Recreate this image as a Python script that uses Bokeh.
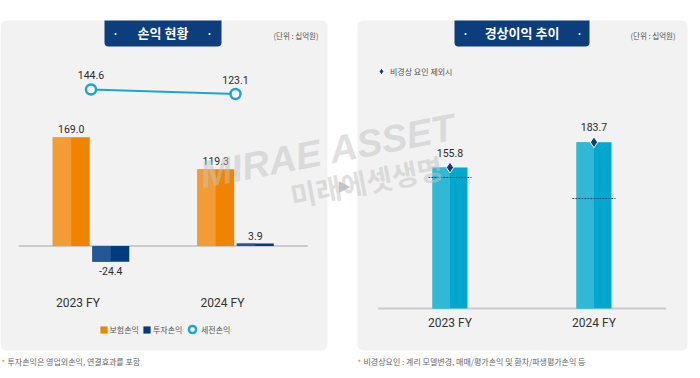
import numpy as np
from bokeh.plotting import figure
from bokeh.models import (ColumnDataSource, Range1d, Label, BoxAnnotation,
                          Legend, LegendItem)
from bokeh.core.properties import value, field
from bokeh.embed import file_html
from bokeh.resources import INLINE

# ---------------- data ----------------
years = ["2023 FY", "2024 FY"]
insurance_profit = [169.0, 119.3]     # 보험손익
investment_profit = [-24.4, 3.9]      # 투자손익
pretax_profit = [144.6, 123.1]        # 세전손익
ordinary_ex = [155.8, 183.7]          # 경상이익 (비경상 요인 제외시)
ordinary_reported = [144.8, 121.5]    # 경상이익 (dotted marker)

left_title = "손익 현황"
right_title = "경상이익 추이"
unit_text = "(단위 : 십억원)"
left_note = "투자손익은 영업외손익, 연결효과를 포함"
right_note = "비경상요인 : 계리 모델변경, 매매/평가손익 및 환차/파생평가손익 등"

# ---------------- styles ----------------
KR = "Noto Sans CJK KR"
NUM = "Roboto"
ORANGE, ORANGE_L = "#f08300", "#f4a448"
NAVY, NAVY_L = "#003b7f", "#2d5f9e"
CYAN, CYAN_L = "#00a8cd", "#3fbcd9"
LINE_C = "#1ba6d0"
BADGE = "#0c3d7d"
PANEL = "#f2f2f2"
TXT = "#2a2a2a"

W, H = 700, 378
p = figure(width=W, height=H, output_backend="svg", toolbar_location=None,
           x_range=Range1d(-0.6263, 4.218), y_range=Range1d(-205.7, 381.2),
           x_axis_location=None, y_axis_location=None, min_border=0,
           outline_line_color=None, background_fill_color="white",
           border_fill_color="white")
p.grid.visible = False
p.extra_x_ranges = {"right": Range1d(-3.1215, 1.7396)}
p.extra_y_ranges = {"right": Range1d(-77.3, 340.3),
                    "line": Range1d(-1238.2, 570.4)}

def sbox(l, r, t, b, **kw):
    return BoxAnnotation(left=l, right=r, top=t, bottom=b,
                         left_units="screen", right_units="screen",
                         top_units="screen", bottom_units="screen", **kw)

# panels
p.add_layout(sbox(0, 327, 358, 28, fill_color=PANEL, fill_alpha=1,
                  line_alpha=0, level="underlay", border_radius=6))
p.add_layout(sbox(357, 687, 358, 28, fill_color=PANEL, fill_alpha=1,
                  line_alpha=0, level="underlay", border_radius=6))

x = np.arange(len(years))
n = len(years)

# ---------------- left chart ----------------
BW = 0.256
OFF = 0.137
p.segment(x0=[-0.5], x1=[n - 0.5], y0=[0], y1=[0], line_color="#cbcbcb",
          line_width=2)

src_l = ColumnDataSource(dict(
    xo=x - OFF, xoh=x - OFF - BW / 4, xn=x + OFF, xnh=x + OFF - BW / 4,
    ins=insurance_profit, inv=investment_profit))
r_ins = p.vbar(x="xo", top="ins", bottom=0, width=BW, source=src_l,
               fill_color=ORANGE, line_color=None)
p.vbar(x="xoh", top="ins", bottom=0, width=BW / 2, source=src_l,
       fill_color=ORANGE_L, line_color=None, fill_alpha=0.75)
r_inv = p.vbar(x="xn", top="inv", bottom=0, width=BW, source=src_l,
               fill_color=NAVY, line_color=None)
p.vbar(x="xnh", top="inv", bottom=0, width=BW / 2, source=src_l,
       fill_color=NAVY_L, line_color=None, fill_alpha=0.8)

vals = insurance_profit + investment_profit
lbl_l = ColumnDataSource(dict(
    x=np.concatenate([x - OFF, x + OFF]), y=vals,
    text=[f"{v:.1f}" for v in vals],
    off=[-4 if v >= 0 else 5 for v in vals],
    base=["bottom" if v >= 0 else "top" for v in vals]))
p.text(x="x", y="y", text="text", y_offset=field("off"),
       text_baseline=field("base"), text_align="center", source=lbl_l,
       text_font=value(NUM), text_font_size="10.5px", text_color=TXT)

# pre-tax line
src_line = ColumnDataSource(dict(x=x, y=pretax_profit,
                                 text=[f"{v:.1f}" for v in pretax_profit]))
p.line(x="x", y="y", source=src_line, y_range_name="line",
       line_color=LINE_C, line_width=2)
r_pre = p.scatter(x="x", y="y", source=src_line, y_range_name="line",
                  size=10, fill_color="white", line_color=LINE_C,
                  line_width=2.5)
p.text(x="x", y="y", text="text", source=src_line, y_range_name="line",
       y_offset=-10, text_baseline="bottom", text_align="center",
       text_font=value(NUM), text_font_size="10.5px", text_color=TXT)

# category labels
p.text(x=x, y=[0] * n, text=years, x_offset=-13, y_offset=57,
       text_baseline="middle", text_align="center", text_font=value(NUM),
       text_font_size="12px", text_color="#333333")

# ---------------- right chart ----------------
RW = 0.243
p.segment(x0=[-0.5], x1=[n - 0.5], y0=[0], y1=[0], line_color="#cbcbcb",
          line_width=2, x_range_name="right", y_range_name="right")
src_r = ColumnDataSource(dict(x=x, xh=x - RW / 4, y=ordinary_ex,
                              rep=ordinary_reported,
                              x0=x - 0.15, x1=x + 0.15,
                              text=[f"{v:.1f}" for v in ordinary_ex]))
p.vbar(x="x", top="y", bottom=0, width=RW, source=src_r,
       fill_color=CYAN, line_color=None,
       x_range_name="right", y_range_name="right")
p.vbar(x="xh", top="y", bottom=0, width=RW / 2, source=src_r,
       fill_color=CYAN_L, line_color=None, fill_alpha=0.8,
       x_range_name="right", y_range_name="right")
p.segment(x0="x0", x1="x1", y0="rep", y1="rep", source=src_r,
          line_color="#27477a", line_width=1, line_dash="2 1",
          x_range_name="right", y_range_name="right")
r_dia = p.scatter(x="x", y="y", source=src_r, marker="diamond", size=11,
                  fill_color="#163d72", line_color="white", line_width=1,
                  x_range_name="right", y_range_name="right")
p.text(x="x", y="y", text="text", source=src_r, y_offset=-11,
       text_baseline="bottom", text_align="center", text_font=value(NUM),
       text_font_size="10.5px", text_color=TXT,
       x_range_name="right", y_range_name="right")
p.text(x=x, y=[0] * n, text=years, y_offset=14, text_baseline="middle",
       text_align="center", text_font=value(NUM), text_font_size="12px",
       text_color="#333333", x_range_name="right", y_range_name="right")

# ---------------- decorations ----------------
def slabel(x_, y_, text, **kw):
    opts = dict(x=x_, y=y_, x_units="screen", y_units="screen", text=text,
                text_font=KR, text_baseline="middle")
    opts.update(kw)
    p.add_layout(Label(**opts))

# watermark
slabel(200, 203, "MIRAE ASSET", text_font="Liberation Sans",
       text_font_style="bold italic", text_font_size="38px",
       text_color="#c2c2c2", text_alpha=0.5, angle=0.19,
       text_baseline="alphabetic")
slabel(290, 183, "미래에셋생명", text_font_style="bold",
       text_font_size="28px", text_color="#c2c2c2", text_alpha=0.5,
       angle=0.19, text_baseline="alphabetic")
# chevron between panels
slabel(344, 193, "▶", text_font="DejaVu Sans", text_font_size="15px",
       text_color="#c4c4c4", text_align="center")

# title badges
for l, r, t, c, d1, d2 in [(104, 221, left_title, 162.5, 115, 209),
                           (454, 589, right_title, 521.5, 465, 579)]:
    p.add_layout(sbox(l, r, 358, 332, fill_color=BADGE, fill_alpha=1,
                      line_alpha=0, border_radius=(0, 0, 4, 4)))
    slabel(c, 346, t, text_font_style="bold", text_font_size="13px",
           text_color="white", text_align="center")
    slabel(d1, 346, "•", text_font_size="7px", text_color="white",
           text_align="center")
    slabel(d2, 346, "•", text_font_size="7px", text_color="white",
           text_align="center")

# unit texts
slabel(318, 343, unit_text, text_font_size="7.5px", text_color="#555555",
       text_align="right")
slabel(675, 343, unit_text, text_font_size="7.5px", text_color="#555555",
       text_align="right")

# footnotes
for x0, t in [(1, left_note), (357, right_note)]:
    slabel(x0, 16, "*", text_font_size="8px", text_color=ORANGE)
    slabel(x0 + 6, 17, t, text_font_size="8px", text_color="#666666")

# legends
common = dict(orientation="horizontal", padding=0, margin=0,
              border_line_alpha=0, background_fill_alpha=0,
              label_text_font=KR, label_text_font_size="8px",
              label_text_color="#555555")
leg1 = Legend(items=[LegendItem(label="보험손익", renderers=[r_ins]),
                     LegendItem(label="투자손익", renderers=[r_inv])],
              location=(98.5, 43.5), glyph_width=9, glyph_height=9,
              label_height=11, label_standoff=2, spacing=3, **common)
leg2 = Legend(items=[LegendItem(label="세전손익", renderers=[r_pre])],
              location=(183, 40), glyph_width=18, glyph_height=18,
              label_height=18, label_standoff=-3, spacing=0, **common)
leg3 = Legend(items=[LegendItem(label="비경상 요인 제외시", renderers=[r_dia])],
              location=(372, 298), glyph_width=18, glyph_height=18,
              label_height=18, label_standoff=0, spacing=0, **common)
for lg in (leg1, leg2, leg3):
    p.add_layout(lg)

open("out.html", "w").write(file_html(p, INLINE))
